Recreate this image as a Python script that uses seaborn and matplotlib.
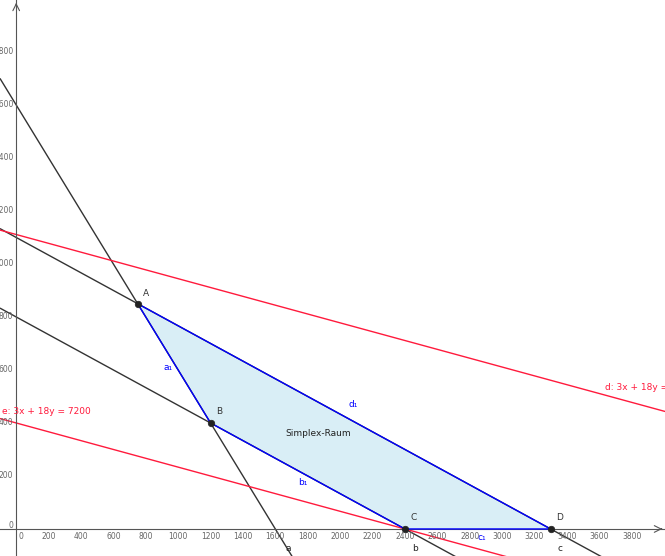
import numpy as np
import pandas as pd
import matplotlib
matplotlib.use("Agg")
import matplotlib.pyplot as plt
import seaborn as sns

sns.set_theme(style="white")
plt.rcParams['font.family'] = ['DejaVu Sans']

# Constraint lines: coef_x * x + coef_y * y = rhs
line_names = ["a", "b", "c", "d", "e"]
coef_x = [1, 1, 1, 3, 3]
coef_y = [1, 3, 3, 18, 18]
rhs = [1600, 2400, 3300, 20000, 7200]
line_colors = ["#333333", "#333333", "#333333", "#ff1a3c", "#ff1a3c"]

# Simplex vertices
vertex_names = ["A", "B", "C", "D"]
vertex_x = [750, 1200, 2400, 3300]
vertex_y = [850, 400, 0, 0]

# Edge labels
edge_names = ["a₁", "b₁", "c₁", "d₁"]

x_ticks = list(range(0, 4000, 200))
y_ticks = list(range(0, 2000, 200))

XMIN, XMAX = -99, 4006
YMIN, YMAX = -102, 1996

fig = plt.figure(figsize=(6.65, 5.56), dpi=100)
ax = fig.add_axes([0, 0, 1, 1])
ax.set_xlim(XMIN, XMAX)
ax.set_ylim(YMIN, YMAX)

# polygon fill
ax.fill(vertex_x, vertex_y, facecolor="#d9eef6", edgecolor="none", zorder=1)

# lines
xs = np.linspace(XMIN, XMAX, 200)
rows = []
for n, cx, cy, r in zip(line_names, coef_x, coef_y, rhs):
    for xv in xs:
        rows.append({"line": n, "x": xv, "y": (r - cx * xv) / cy})
df = pd.DataFrame(rows)
sns.lineplot(data=df, x="x", y="y", hue="line", palette=dict(zip(line_names, line_colors)),
             legend=False, ax=ax, linewidth=1.0, sort=False, estimator=None, zorder=2)

# polygon edges (blue)
px = vertex_x + [vertex_x[0]]
py = vertex_y + [vertex_y[0]]
edf = pd.DataFrame({"x": px, "y": py, "o": range(len(px))})
sns.lineplot(data=edf, x="x", y="y", ax=ax, color="#0000ff", linewidth=1.0,
             sort=False, estimator=None, zorder=3)

# vertices
sns.scatterplot(x=vertex_x, y=vertex_y, ax=ax, color="#222222", s=22, zorder=5,
                edgecolor="#222222", linewidth=0.5)

# vertex labels
vlab_off = [(34, 22), (35, 26), (32, 26), (33, 26)]
for n, vx, vy, (dx, dy) in zip(vertex_names, vertex_x, vertex_y, vlab_off):
    ax.text(vx + dx, vy + dy, n, fontsize=6.5, color="#333333", ha="left", va="bottom")

# edge labels
edge_pos = [(938, 611), (1772, 174), (2877, -34), (2080, 468)]
for n, (ex, ey) in zip(edge_names, edge_pos):
    ax.text(ex, ey, n, fontsize=6.5, color="#0000ff", ha="center", va="center")

# line labels
ax.text(1679, -75, "a", fontsize=6.5, color="#222222", ha="center", va="center")
ax.text(2463, -75, "b", fontsize=6.5, color="#222222", ha="center", va="center")
ax.text(3358, -75, "c", fontsize=6.5, color="#222222", ha="center", va="center")
ax.text(3636, 532, "d: 3x + 18y = 20000", fontsize=6.5, color="#ff1a3c", ha="left", va="center")
ax.text(-86, 442, "e: 3x + 18y = 7200", fontsize=6.5, color="#ff1a3c", ha="left", va="center")
ax.text(1864, 362, "Simplex-Raum", fontsize=6.5, color="#222222", ha="center", va="center")

# axes through origin
for s in ["top", "right"]:
    ax.spines[s].set_visible(False)
ax.spines["left"].set_position(("data", 0))
ax.spines["bottom"].set_position(("data", 0))
ax.spines["left"].set_color("#555555")
ax.spines["bottom"].set_color("#555555")
ax.spines["left"].set_linewidth(0.8)
ax.spines["bottom"].set_linewidth(0.8)
ax.annotate("", xy=(XMAX, 0), xytext=(XMAX - 40, 0),
            arrowprops=dict(arrowstyle="->", color="#555555", lw=0.8))
ax.annotate("", xy=(0, YMAX), xytext=(0, YMAX - 30),
            arrowprops=dict(arrowstyle="->", color="#555555", lw=0.8))

ax.set_xticks(x_ticks)
ax.set_yticks(y_ticks)
ax.set_xticks(list(range(-100, 4000, 100)), minor=True)
ax.set_yticks(list(range(-100, 2000, 100)), minor=True)
ax.set_xticklabels([])
ax.set_yticklabels([])
ax.tick_params(which="major", direction="inout", length=4, width=0.6, color="#555555")
ax.tick_params(which="minor", direction="inout", length=2.5, width=0.5, color="#555555")
ax.set_xlabel("")
ax.set_ylabel("")

for t in x_ticks:
    xo = 30 if t == 0 else 0
    ax.text(t + xo, -30, str(t), fontsize=5.5, color="#666666", ha="center", va="center")
for t in y_ticks:
    ax.text(-18, t + (12 if t == 0 else 0), str(t), fontsize=5.5, color="#666666",
            ha="right", va="center")

fig.savefig("out.png", dpi=100, facecolor="white")
